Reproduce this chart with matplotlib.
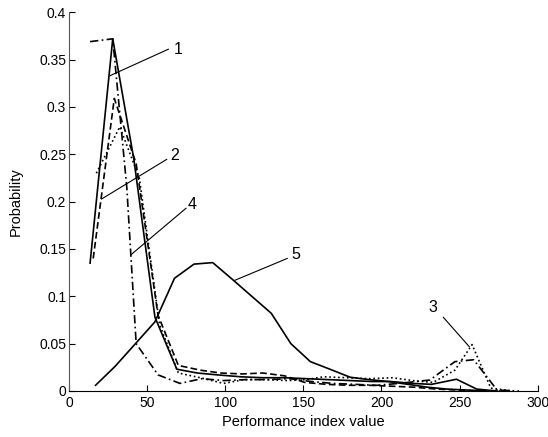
import matplotlib
matplotlib.use("Agg")
import matplotlib.pyplot as plt
from matplotlib.ticker import FormatStrFormatter

plt.rcParams['font.family'] = ['Liberation Sans', 'DejaVu Sans']

# curve 1 (solid)
x1 = [13.5, 28, 41.5, 55, 69, 82, 95, 110, 124, 138, 152, 166, 180, 194, 206, 220, 232, 248, 261, 274]
y1 = [0.135, 0.372, 0.245, 0.078, 0.023, 0.019, 0.017, 0.015, 0.014, 0.014, 0.013, 0.012, 0.011, 0.010, 0.010, 0.008, 0.007, 0.0124, 0.002, 0.0]

# curve 2 (dashed)
x2 = [15.5, 29, 43, 57, 70, 84, 97, 111, 124, 138, 151, 165, 179, 193, 207, 221, 235, 249, 263, 277]
y2 = [0.140, 0.309, 0.240, 0.080, 0.027, 0.022, 0.019, 0.018, 0.019, 0.016, 0.009, 0.007, 0.006, 0.006, 0.005, 0.004, 0.002, 0.001, 0.0, 0.0]

# curve 3 (dotted)
x3 = [17.5, 32.5, 45, 58, 70, 84, 99, 112, 126, 140, 152, 163, 178, 192, 207, 220, 233, 247, 258, 270, 284]
y3 = [0.23, 0.279, 0.225, 0.07, 0.019, 0.014, 0.008, 0.012, 0.012, 0.011, 0.012, 0.015, 0.014, 0.013, 0.014, 0.011, 0.009, 0.022, 0.049, 0.003, 0.0]

# curve 4 (dash-dot)
x4 = [13.5, 28, 37, 43, 57, 71, 85, 99, 113, 127, 141, 155, 169, 183, 197, 211, 231, 247, 259, 274, 288]
y4 = [0.369, 0.372, 0.215, 0.050, 0.017, 0.008, 0.013, 0.011, 0.012, 0.012, 0.013, 0.010, 0.008, 0.007, 0.006, 0.008, 0.0116, 0.031, 0.033, 0.001, 0.0]

# curve 5 (solid)
x5 = [17, 29.5, 42, 55, 67.5, 80, 92, 104.5, 117, 129.5, 142, 154.5, 167, 180, 192, 204.5, 217, 229.5, 242, 254.5, 267]
y5 = [0.006, 0.026, 0.049, 0.073, 0.119, 0.134, 0.1356, 0.118, 0.100, 0.082, 0.050, 0.031, 0.023, 0.0145, 0.012, 0.010, 0.007, 0.004, 0.002, 0.001, 0.0]

fig = plt.figure(figsize=(5.48, 4.37), dpi=100)
ax = fig.add_axes([0.1259, 0.1053, 0.8553, 0.8666])

lw = 1.2
ax.plot(x1, y1, 'k-', lw=lw)
ax.plot(x2, y2, 'k--', lw=lw, dashes=(4, 2))
ax.plot(x3, y3, 'k:', lw=lw)
ax.plot(x4, y4, 'k-.', lw=lw, dashes=(5, 2, 1, 2))
ax.plot(x5, y5, 'k-', lw=lw)

# labels with leader lines
labels = ['1', '2', '4', '5', '3']
label_xy = [(69.6, 0.361), (67.8, 0.249), (78.9, 0.1965), (145.3, 0.1437), (233.2, 0.0884)]
leader_from = [(63.6, 0.361), (62.5, 0.2446), (74.9, 0.193), (139.7, 0.140), (239.6, 0.0778)]
leader_to = [(26.2, 0.333), (20.9, 0.2028), (39.5, 0.1437), (106.3, 0.117), (256.2, 0.0468)]
for lab, p, a, b in zip(labels, label_xy, leader_from, leader_to):
    ax.plot([a[0], b[0]], [a[1], b[1]], 'k-', lw=0.8)
    ax.text(p[0], p[1], lab, fontsize=11.5, ha='center', va='center')

ax.set_xlim(0, 300)
ax.set_ylim(0, 0.4)
ax.set_xticks([0, 50, 100, 150, 200, 250, 300])
ax.set_yticks([0, 0.05, 0.1, 0.15, 0.2, 0.25, 0.3, 0.35, 0.4])
ax.yaxis.set_major_formatter(FormatStrFormatter('%g'))
ax.tick_params(direction='in', length=4, labelsize=10, width=0.8)
ax.tick_params(axis='y', pad=2)
ax.spines['top'].set_visible(False)
ax.spines['right'].set_visible(False)
ax.spines['left'].set_color('#555555')
ax.set_xlabel('Performance index value', fontsize=10.5)
ax.set_ylabel('Probability', fontsize=10.5, labelpad=12)

fig.savefig('out.png', dpi=100)
